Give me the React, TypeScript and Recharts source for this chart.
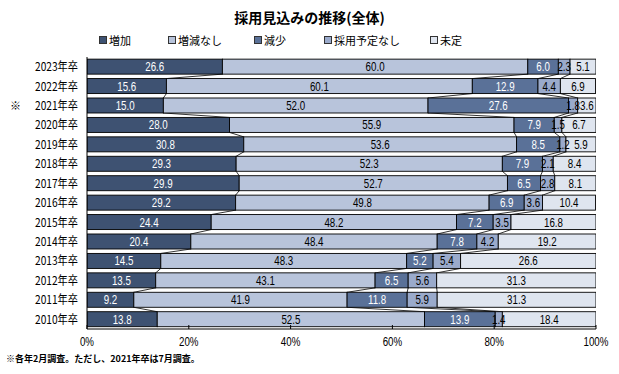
import React from 'react'
import { BarChart, Bar, XAxis, YAxis, LabelList, usePlotArea } from 'recharts'

const YEARS = [
  '2023年卒', '2022年卒', '2021年卒', '2020年卒', '2019年卒', '2018年卒', '2017年卒',
  '2016年卒', '2015年卒', '2014年卒', '2013年卒', '2012年卒', '2011年卒', '2010年卒',
]
const INCREASE = [26.6, 15.6, 15.0, 28.0, 30.8, 29.3, 29.9, 29.2, 24.4, 20.4, 14.5, 13.5, 9.2, 13.8]
const NO_CHANGE = [60.0, 60.1, 52.0, 55.9, 53.6, 52.3, 52.7, 49.8, 48.2, 48.4, 48.3, 43.1, 41.9, 52.5]
const DECREASE = [6.0, 12.9, 27.6, 7.9, 8.5, 7.9, 6.5, 6.9, 7.2, 7.8, 5.2, 6.5, 11.8, 13.9]
const NO_PLAN = [2.3, 4.4, 1.8, 1.5, 1.2, 2.1, 2.8, 3.6, 3.5, 4.2, 5.4, 5.6, 5.9, 1.4]
const UNDECIDED = [5.1, 6.9, 3.6, 6.7, 5.9, 8.4, 8.1, 10.4, 16.8, 19.2, 26.6, 31.3, 31.3, 18.4]

const X_TICKS = [0, 20, 40, 60, 80, 100]
const NOTE_YEAR = '2021年卒'

const SERIES = [
  { key: 's0', name: '増加', values: INCREASE, color: '#3e5272', text: '#fff' },
  { key: 's1', name: '増減なし', values: NO_CHANGE, color: '#b8c4db', text: '#000' },
  { key: 's2', name: '減少', values: DECREASE, color: '#5a7198', text: '#fff' },
  { key: 's3', name: '採用予定なし', values: NO_PLAN, color: '#9aaacb', text: '#000' },
  { key: 's4', name: '未定', values: UNDECIDED, color: '#dfe5ef', text: '#000' },
]

const rows = YEARS.map((year, i) => {
  const r: Record<string, any> = { year }
  SERIES.forEach((s) => { r[s.key] = s.values[i] })
  return r
})

const NUM_FONT = "'Liberation Sans', Arial, sans-serif"
const JP_FONT = "'Noto Sans CJK JP', sans-serif"

// squeeze text horizontally, the original uses a narrow gothic face
const squeeze = (cx: number, cy: number, k = 0.78) =>
  `translate(${cx} ${cy}) scale(${k} 1) translate(${-cx} ${-cy})`

// bar segment + excel-like series line down to the next row
function Segment(props: any) {
  const { x, y, width, height, fill, index, seriesIdx } = props
  const plot = usePlotArea()
  let line = null
  if (plot && seriesIdx < SERIES.length - 1 && index < rows.length - 1) {
    const step = plot.height / rows.length
    let cum = 0
    for (let k = 0; k <= seriesIdx; k++) cum += SERIES[k].values[index + 1]
    const xNext = plot.x + (cum * plot.width) / 100
    line = (
      <line x1={x + width} y1={y + height} x2={xNext} y2={y + step}
        stroke="#000" strokeWidth={0.8} />
    )
  }
  return (
    <g>
      <rect x={x} y={y} width={width} height={height} fill={fill} stroke="#000" strokeWidth={0.9} />
      {line}
    </g>
  )
}

function SegLabel(props: any) {
  const { x, y, width, height, value, color } = props
  const cx = x + width / 2
  const cy = y + height / 2
  return (
    <text x={cx} y={cy} dy={4.5} textAnchor="middle" fontSize={12.5} fontFamily={NUM_FONT}
      fill={color} transform={squeeze(cx, cy)}>
      {Number(value).toFixed(1)}
    </text>
  )
}

function YearTick(props: any) {
  const { x, y, payload } = props
  return (
    <g>
      {payload.value === NOTE_YEAR && (
        <text x={10} y={y} dy={4} fontSize={11} fontFamily={JP_FONT} fill="#000">※</text>
      )}
      <text x={x} y={y} dy={4.5} textAnchor="end" fontSize={12} fontFamily={JP_FONT} fill="#000"
        transform={squeeze(x, y, 0.85)}>
        {payload.value}
      </text>
    </g>
  )
}

function PctTick(props: any) {
  const { x, y, payload } = props
  return (
    <text x={x} y={y} dy={9} textAnchor="middle" fontSize={12.5} fontFamily={NUM_FONT} fill="#000"
      transform={squeeze(x, y, 0.78)}>
      {`${payload.value}%`}
    </text>
  )
}

export default function App() {
  return (
    <div style={{ position: 'absolute', left: 0, top: 0, width: 619, height: 374, background: '#fff' }}>
      <div style={{
        position: 'absolute', top: 7, left: 0, width: 619, textAlign: 'center',
        fontFamily: JP_FONT, fontWeight: 'bold', fontSize: 14, lineHeight: '20px',
      }}>
        採用見込みの推移(全体)
      </div>
      {SERIES.map((s, i) => (
        <div key={s.key} style={{
          position: 'absolute', top: 33, left: [99, 168, 254, 324, 430][i],
          fontFamily: JP_FONT, fontSize: 11, lineHeight: '14px', display: 'flex', alignItems: 'center',
        }}>
          <span style={{
            display: 'inline-block', width: 6, height: 6, background: s.color,
            border: '1px solid #333', marginRight: 2,
          }} />
          {s.name}
        </div>
      ))}
      <div style={{ position: 'absolute', left: 0, top: 0 }}>
        <BarChart
          width={619}
          height={374}
          data={rows}
          layout="vertical"
          barCategoryGap="11%"
          margin={{ top: 57, right: 23, bottom: 15, left: 0 }}
        >
          <XAxis
            type="number"
            domain={[0, 100]}
            ticks={X_TICKS}
            allowDataOverflow
            axisLine={{ stroke: '#000' }}
            tickLine={{ stroke: '#000' }}
            tickSize={-4}
            tickMargin={12}
            height={30}
            tick={<PctTick />}
          />
          <YAxis
            type="category"
            dataKey="year"
            width={87}
            axisLine={{ stroke: '#000' }}
            tickLine={false}
            tickSize={0}
            tickMargin={9}
            tick={<YearTick />}
            interval={0}
          />
          {SERIES.map((s, i) => (
            <Bar
              key={s.key}
              dataKey={s.key}
              name={s.name}
              stackId="a"
              fill={s.color}
              isAnimationActive={false}
              shape={(p: any) => <Segment {...p} seriesIdx={i} />}
            >
              <LabelList
                dataKey={s.key}
                content={(p: any) => <SegLabel {...p} color={s.text} />}
              />
            </Bar>
          ))}
        </BarChart>
      </div>
      <div style={{
        position: 'absolute', left: 6, top: 353, fontFamily: JP_FONT, fontSize: 9,
        fontWeight: 'bold', lineHeight: '12px',
      }}>
        ※各年2月調査。ただし、2021年卒は7月調査。
      </div>
    </div>
  )
}
